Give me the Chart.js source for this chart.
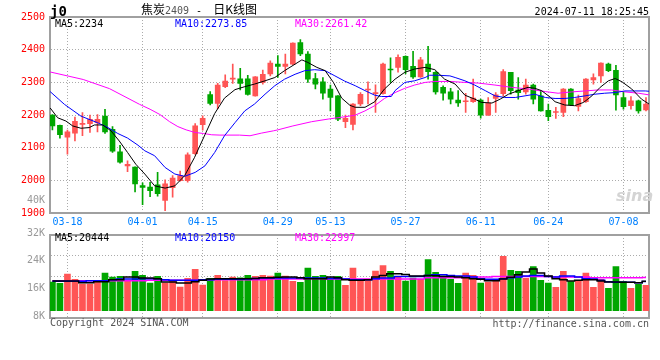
<!DOCTYPE html>
<html><head><meta charset="utf-8">
<script src="https://cdn.jsdelivr.net/npm/chart.js@4.4.1/dist/chart.umd.min.js"></script>
<style>
html,body{margin:0;padding:0;background:#fff;}
#wrap{position:relative;width:660px;height:360px;overflow:hidden;background:#fff;font-family:'DejaVu Sans Mono',monospace;font-size:10px;color:#000;}
#main{position:absolute;left:0;top:0;}
#vol{position:absolute;left:0;top:224px;}
.t{position:absolute;white-space:nowrap;line-height:12px;}
.cjk{font-family:'Noto Sans CJK SC',sans-serif;font-size:12px;}
</style></head><body>
<div id="wrap">
<canvas id="main" width="660" height="232"></canvas>
<canvas id="vol" width="660" height="136"></canvas>
<div class="t" style="left:50px;top:3px;font-size:14px;line-height:16px;font-weight:bold;">j0</div>
<div class="t" style="left:141px;top:1px;line-height:16px;"><span class="cjk">焦炭</span><span style="color:#555">2409</span><span style="margin:0 11px 0 7px">-</span><span class="cjk">日K线图</span></div>
<div class="t" style="right:11px;top:6px;">2024-07-11 18:25:45</div>
<div class="t" style="left:55px;top:18px;color:#000">MA5:2234</div>
<div class="t" style="left:175px;top:18px;color:#0000ff">MA10:2273.85</div>
<div class="t" style="left:295px;top:18px;color:#ff00ff">MA30:2261.42</div>
<div class="t" style="left:55px;top:232px;color:#000">MA5:20444</div>
<div class="t" style="left:175px;top:232px;color:#0000ff">MA10:20150</div>
<div class="t" style="left:295px;top:232px;color:#ff00ff">MA30:22997</div>
<div class="t" style="left:0;width:45px;text-align:right;top:194px;color:#999">40K</div>
<div class="t" style="left:50px;top:317px;color:#555">Copyright 2024 SINA.COM</div>
<div class="t" style="right:11px;top:318px;color:#555">http://finance.sina.com.cn</div>
<div class="t" style="left:616px;top:187px;font-family:'DejaVu Sans',sans-serif;font-style:italic;font-weight:bold;font-size:16px;line-height:18px;color:#d4d4d4">sina</div>
</div>
<script>
const dates = ['03-14','03-15','03-18','03-19','03-20','03-21','03-22','03-25','03-26','03-27','03-28','03-29',
'04-01','04-02','04-03','04-08','04-09','04-10','04-11','04-12','04-15','04-16','04-17','04-18','04-19',
'04-22','04-23','04-24','04-25','04-26','04-29','04-30',
'05-06','05-07','05-08','05-09','05-10','05-13','05-14','05-15','05-16','05-17','05-20','05-21','05-22','05-23','05-24',
'05-27','05-28','05-29','05-30','05-31',
'06-03','06-04','06-05','06-06','06-07','06-11','06-12','06-13','06-14','06-17','06-18','06-19','06-20','06-21',
'06-24','06-25','06-26','06-27','06-28',
'07-01','07-02','07-03','07-04','07-05','07-08','07-09','07-10','07-11'];
const tickDates = ['03-18','04-01','04-15','04-29','05-13','05-27','06-11','06-24','07-08'];

const open = [2200,2169,2133,2145,2172,2174,2177,2197,2157,2088,
2045,2041,1985,1980,1987,1939,1978,2000,2000,2082,
2171,2263,2236,2287,2310,2311,2311,2259,2300,2326,
2356,2349,2356,2422,2387,2312,2302,2280,2259,2180,
2172,2234,2277,2266,2266,2340,2346,2380,2349,2317,
2356,2331,2285,2271,2246,2241,2241,2246,2200,2251,
2266,2331,2277,2271,2292,2259,2215,2208,2208,2280,
2227,2241,2308,2320,2356,2337,2254,2229,2244,2216];
const high = [2202,2170,2154,2194,2208,2200,2202,2218,2165,2108,
2060,2042,1993,1995,2025,2002,2015,2029,2085,2174,
2198,2272,2297,2323,2356,2343,2322,2318,2338,2366,
2382,2387,2421,2431,2394,2328,2315,2292,2260,2200,
2235,2269,2302,2293,2359,2375,2384,2381,2395,2377,
2410,2333,2290,2282,2275,2267,2310,2249,2254,2269,
2339,2331,2315,2310,2295,2275,2234,2224,2281,2281,
2261,2312,2326,2360,2359,2352,2270,2257,2246,2254];
const low = [2155,2130,2081,2121,2137,2147,2149,2144,2086,2053,
2027,1965,1926,1951,1952,1908,1949,1998,1995,2080,
2154,2231,2220,2284,2297,2277,2261,2258,2295,2320,
2315,2326,2354,2382,2300,2280,2249,2213,2183,2162,
2155,2229,2234,2208,2264,2300,2331,2326,2312,2315,
2310,2264,2246,2234,2227,2208,2239,2191,2199,2208,
2259,2264,2249,2264,2234,2212,2183,2190,2195,2229,
2213,2239,2295,2300,2333,2215,2218,2218,2206,2213];
const close = [2167,2140,2149,2181,2175,2187,2187,2149,2090,2056,
2050,1990,1979,1969,1960,1990,2008,2015,2079,2167,
2190,2236,2292,2304,2312,2297,2263,2317,2325,2359,
2349,2356,2420,2387,2310,2295,2267,2254,2188,2190,
2234,2264,2280,2269,2356,2338,2377,2339,2317,2369,
2333,2271,2267,2249,2237,2244,2252,2200,2237,2262,
2333,2275,2269,2292,2249,2213,2195,2211,2280,2231,
2251,2310,2315,2359,2336,2262,2226,2244,2213,2234];
const volume = [19836,18924,25308,21660,18468,18468,20292,25992,23256,23712,
20976,27132,24396,19152,23712,19152,20976,16416,22344,28500,
17784,22344,24396,20748,23256,22800,24396,23712,24396,23940,
25992,23940,20292,19608,29412,23712,24396,22800,23712,17556,
29412,20292,21660,27360,31236,27132,23256,20520,22572,21660,
35340,26448,23940,21660,18924,25992,24396,19152,19836,21660,
37620,27816,27132,22344,30552,20976,19152,16188,27132,20064,
20292,25992,16188,21660,15504,30552,20292,15504,18240,17556];

// price moving averages: [candle position, value]
const ma5 = [[-0.3,2222],[0.7,2192],[1.8,2182],[2.7,2167],[3.8,2160],[4.9,2162],[5.6,2170],[6.7,2170],[7.8,2152],[8.9,2121],[10,2086],[11.1,2050],[12.3,2020],[13.6,1984],[15,1977],[16.3,1984],[17.6,2015],[18.9,2070],[20.3,2140],[21.6,2205],[22.9,2252],[24.3,2278],[25.6,2287],[26.9,2295],[28.3,2305],[29.6,2315],[30.9,2336],[32.3,2356],[33.2,2369],[34,2361],[35.2,2346],[36.3,2336],[37.4,2300],[38.5,2252],[39.6,2230],[40.3,2224],[41.6,2224],[42.9,2241],[44.2,2280],[45.6,2310],[46.9,2331],[48.2,2341],[49.6,2346],[50.9,2339],[52.2,2310],[53.6,2295],[54.9,2261],[56.2,2249],[57.1,2239],[58.5,2237],[59.6,2249],[60.7,2264],[62,2275],[63.3,2285],[64.2,2282],[65.1,2275],[66.3,2254],[66.9,2241],[68.2,2231],[69.5,2229],[70.7,2239],[71.8,2259],[72.9,2285],[74,2305],[74.9,2312],[75.8,2302],[77.1,2280],[78.4,2249],[79.4,2234]];
const ma10 = [[-0.3,2272],[1.6,2233],[3.8,2197],[6,2177],[7.4,2162],[8.7,2144],[10,2130],[11.4,2108],[12.3,2091],[13.6,2076],[15,2040],[16.3,2020],[17.6,2013],[19,2025],[20.3,2045],[21.6,2086],[22.9,2137],[24.3,2177],[25.6,2213],[26.9,2234],[28.3,2264],[29.6,2290],[30.9,2310],[32.3,2325],[33.6,2336],[34.9,2339],[36.3,2336],[37.6,2320],[38.9,2304],[40.3,2290],[41.6,2275],[42.9,2261],[43.8,2257],[45.1,2257],[45.6,2275],[46.9,2300],[48.2,2305],[49.6,2315],[50.2,2322],[51.3,2322],[52.9,2320],[53.6,2315],[54.9,2305],[56.2,2292],[57.6,2275],[58.9,2259],[60.2,2254],[61.6,2254],[62.9,2259],[64.2,2264],[65.6,2254],[66.9,2251],[68.2,2251],[69.5,2254],[70.9,2259],[72.2,2264],[73.5,2267],[74.9,2269],[76.2,2274],[77.5,2274],[78.9,2274],[79.4,2273]];
const ma30 = [[-0.3,2332],[4.1,2309],[7.6,2281],[11.6,2233],[13,2218],[14.3,2202],[15.6,2180],[16.7,2165],[17.8,2155],[19,2147],[20.1,2144],[21.2,2140],[22.3,2139],[24.9,2139],[26.3,2137],[27.8,2145],[29.4,2152],[30,2155],[32,2167],[34.5,2180],[36.7,2188],[38.9,2195],[40.3,2200],[41.6,2213],[42.9,2229],[44.2,2251],[45.6,2269],[46.9,2282],[48.2,2292],[49.6,2300],[50.9,2303],[52.9,2303],[54.9,2300],[56.7,2298],[58.9,2292],[61.1,2285],[63.3,2280],[65.6,2272],[67.3,2267],[69.1,2271],[70.9,2274],[72.6,2277],[74.4,2277],[76.2,2271],[78,2267],[79.4,2262]];

// volume moving averages, one per candle
const volMa5 = [20520,20520,20520,20520,19380,19380,20060,20060,21430,21430,
23260,23260,22570,22570,22120,19840,19840,19150,19150,20060,
20980,21890,22120,22120,22120,22120,22120,22340,22800,22800,
23030,23260,23260,22800,22120,22120,22120,23260,22800,21430,
20980,20980,21430,23260,24400,25540,25540,25080,23940,23940,
24400,24170,23710,23710,23260,22800,22120,21660,20750,20750,
21890,23030,24850,26680,28730,25990,23940,22120,21430,20520,
20980,21430,21430,20520,19840,19840,19610,19610,19380,20440];
const volMa10 = [20290,20290,20290,20290,20290,20750,20750,20750,21430,21890,
21890,21890,22120,22120,22120,21430,20980,20980,20980,20980,
21430,21430,21660,21660,21660,21660,21890,22340,22570,22570,
22570,22570,22570,22570,22570,22570,22570,22340,22340,21890,
21430,21430,21430,22120,22570,22570,23710,23710,23710,23710,
24400,24850,24850,24400,23940,23940,23260,22120,21660,21660,
22120,22800,23260,23940,24400,24400,23710,23260,23940,23940,
23260,22120,21890,20980,20060,19610,19610,19610,19380,20150];
const volMa30 = [20750,20750,20750,20750,20750,20750,20750,20750,20750,20750,
20750,20750,20750,20980,20980,20980,20980,20980,20980,20980,
20980,21430,21430,21430,21430,21430,21430,21430,21430,21890,
21890,21890,21890,21890,22120,22120,22120,21890,21890,21890,
21890,21890,21890,21890,21890,21890,21890,21890,21890,21890,
22800,22800,22800,22800,22800,23260,23260,23260,23260,23710,
23710,23710,23710,23710,23710,23710,23710,23260,23260,23260,
23260,23260,22800,22800,22800,22800,22800,22800,22800,22997];

const volLabelValues = [8, 16, 24, 32]; // shown as "8K" ... "32K"

// ---------- styling ----------
const mono = "'DejaVu Sans Mono', monospace";
const UP = '#ff5555', DOWN = '#00a600';
const FRAME = '#a0a0a0', GRID = '#ababab';
const X_MIN = -0.32, X_MAX = 79.44;
Chart.defaults.font.family = mono;
Chart.defaults.font.size = 10;

const colors = close.map((c, i) => c >= open[i] ? UP : DOWN);
const tickIdx = tickDates.map(d => dates.indexOf(d));
const font = {family: mono, size: 10};
const gridOpts = {color: GRID, lineWidth: 1, drawTicks: false, offset: false};
const borderOpts = {display: true, color: FRAME, width: 2, dash: [1, 2]};
const frameTop = {type: 'linear', position: 'top', min: X_MIN, max: X_MAX,
  grid: {display: false, drawTicks: false}, ticks: {display: false},
  border: {display: true, color: FRAME, width: 2}, afterFit: s => { s.height = 0; }};
const frameRight = {type: 'linear', position: 'right',
  grid: {display: false, drawTicks: false}, ticks: {display: false},
  border: {display: true, color: FRAME, width: 2}, afterFit: s => { s.width = 0; }};
const pts = arr => arr.map(([x, y]) => ({x, y}));
const line = (data, color, extra) => Object.assign({type: 'line', data, borderColor: color,
  borderWidth: 1, pointRadius: 0, tension: 0, order: 0}, extra || {});

new Chart(document.getElementById('main'), {
  type: 'bar',
  data: { datasets: [
    line(pts(ma5), '#000000'),
    line(pts(ma10), '#0000ff'),
    line(pts(ma30), '#ff00ff'),
    {label: 'body', data: dates.map((d, i) => ({x: i, y: [open[i], close[i]]})),
     backgroundColor: colors, borderWidth: 0, barThickness: 5, minBarLength: 1, grouped: false, order: 1},
    {label: 'wick', data: dates.map((d, i) => ({x: i, y: [low[i], high[i]]})),
     backgroundColor: colors, borderWidth: 0, barThickness: 1, minBarLength: 1, grouped: false, order: 2}
  ]},
  options: {
    responsive: false, animation: false, events: [],
    layout: {padding: {top: 17, right: 10.7, bottom: 0, left: 0}},
    plugins: {legend: {display: false}, tooltip: {enabled: false}},
    scales: {
      x: {type: 'linear', position: 'bottom', min: X_MIN, max: X_MAX, offset: false,
        grid: gridOpts, border: borderOpts,
        afterBuildTicks: s => { s.ticks = tickIdx.map(v => ({value: v})); },
        ticks: {color: '#0080ff', font, padding: 3, autoSkip: false, maxRotation: 0,
          callback: v => dates[v] || ''},
        afterFit: s => { s.height = 18.7; }},
      xt: frameTop,
      y: {type: 'linear', position: 'left', min: 1900, max: 2500, beginAtZero: false,
        grid: gridOpts, border: borderOpts,
        ticks: {stepSize: 100, color: '#ff0000', font, padding: 5, callback: v => String(v)},
        afterFit: s => { s.width = 50; }},
      yr: frameRight
    }
  }
});

new Chart(document.getElementById('vol'), {
  type: 'bar',
  data: { datasets: [
    line(volMa5.map((v, i) => ({x: i, y: v})), '#000000', {stepped: 'middle', borderWidth: 1.5, yAxisID: 'y'}),
    line(volMa10.map((v, i) => ({x: i, y: v})), '#0000ff', {stepped: 'middle', borderWidth: 1.5, yAxisID: 'y'}),
    line(volMa30.map((v, i) => ({x: i, y: v})), '#ff00ff', {stepped: 'middle', borderWidth: 1.5, yAxisID: 'y'}),
    {label: 'vol', data: volume.map((v, i) => ({x: i, y: v})), yAxisID: 'y',
     backgroundColor: colors, borderWidth: 0, barThickness: 6, grouped: false, order: 1}
  ]},
  options: {
    responsive: false, animation: false, events: [],
    layout: {padding: {top: 10.3, right: 10.7, bottom: 41.7, left: 0}},
    plugins: {legend: {display: false}, tooltip: {enabled: false}},
    scales: {
      x: {type: 'linear', position: 'bottom', min: X_MIN, max: X_MAX, offset: false,
        grid: gridOpts, border: borderOpts,
        afterBuildTicks: s => { s.ticks = tickIdx.map(v => ({value: v})); },
        ticks: {display: false}, afterFit: s => { s.height = 0; }},
      xt: frameTop,
      y: {type: 'linear', position: 'left', min: -5200, max: 52260, beginAtZero: false,
        grid: gridOpts, border: borderOpts,
        afterBuildTicks: s => { const a = s.min, b = s.max; s.ticks = [1, 2, 3].map(k => ({value: a + k * (b - a) / 4})); },
        ticks: {display: false}, afterFit: s => { s.width = 0; }},
      yl: {type: 'linear', position: 'left', min: volLabelValues[0], max: volLabelValues[volLabelValues.length - 1],
        afterBuildTicks: s => { s.ticks = volLabelValues.map(v => ({value: v})); },
        ticks: {color: '#999999', font, padding: 5, labelOffset: -2, callback: v => v + 'K'},
        grid: {display: false, drawTicks: false}, border: {display: false},
        afterFit: s => { s.width = 50; }},
      yr: frameRight
    }
  }
});
</script>
</body></html>
